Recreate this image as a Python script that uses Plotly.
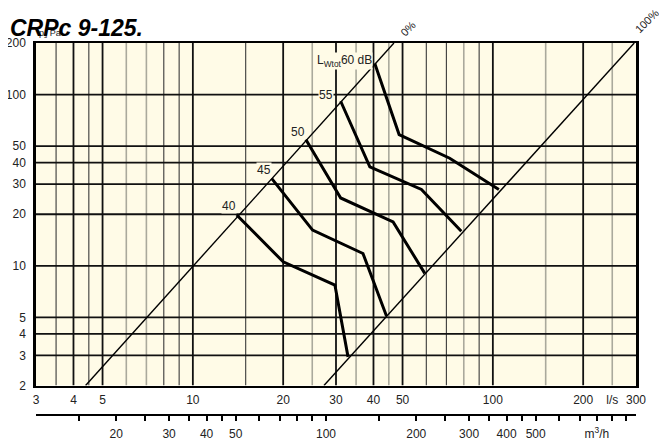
import numpy as np
import plotly.graph_objects as go

# ---------------- data ----------------
db_levels = [40, 45, 50, 55, 60]
q_40 = [14.0, 20.0, 29.75, 32.9]
p_40 = [19.8, 10.55, 7.72, 2.94]
q_45 = [18.3, 25.07, 36.9, 44.2]
p_45 = [32.4, 16.16, 11.8, 5.09]
q_50 = [23.8, 31.1, 46.5, 59.3]
p_50 = [54.6, 24.9, 18.06, 9.03]
q_55 = [31.1, 38.9, 57.8, 78.5]
p_55 = [91.4, 37.8, 27.9, 15.9]
q_60 = [40.4, 48.7, 71.8, 104.7]
p_60 = [151.7, 58.4, 42.5, 27.9]

line0_q = [4.39, 46.8]
line0_p = [2, 200]
line100_q = [27.35, 296]
line100_p = [2, 200]

x_tickvals = [3, 4, 5, 10, 20, 30, 40, 50, 100, 200, 250, 300]
x_ticktext = ["3", "4", "5", "10", "20", "30", "40", "50", "100", "200", "l/s", "300"]
y_tickvals = [2, 3, 4, 5, 10, 20, 30, 40, 50, 100, 200]
y_ticktext = ["2", "3", "4", "5", "10", "20", "30", "40", "50", "100", "200"]
m3h_tickvals = [15, 20, 25, 30, 35, 40, 45, 50, 60, 70, 80, 90, 100, 150, 200, 250,
                300, 350, 400, 450, 500, 600, 700, 800, 900, 1000]
m3h_labels = {20: "20", 30: "30", 40: "40", 50: "50", 100: "100", 200: "200",
              300: "300", 400: "400", 500: "500", 800: "m<sup>3</sup>/h"}

grid_x_thick = [4, 5, 10, 20, 30, 40, 50, 100, 200]
grid_x_thin = [3.5, 4.5, 8, 9, 15, 60, 70, 90]
grid_x_light = [6, 7, 25, 35, 45, 80, 150, 250]
grid_y = [3, 4, 5, 10, 20, 30, 40, 50, 100]

BG = "#fffbe7"
FONT = "Liberation Sans, Arial, sans-serif"

# page offset (default body margin of the html page)
OFF = 8
W, H = 667, 441
# target screen positions
S_L, S_R, S_T, S_B = 36, 636, 42.7, 415.0
S_MAIN_BOTTOM = 385.5
L, R, T, B = S_L - OFF, S_R - OFF, S_T - OFF, S_B - OFF


def px(xs):
    return (xs - S_L) / (S_R - S_L)


def py(ys):
    return (S_B - ys) / (S_B - S_T)


fig = go.Figure()


def vlines(vals, color, width):
    xs, ys = [], []
    for v in vals:
        xs += [v, v, None]
        ys += [2, 200, None]
    fig.add_trace(go.Scatter(x=xs, y=ys, mode="lines", line=dict(color=color, width=width),
                             hoverinfo="skip", showlegend=False))


def hlines(vals, color, width):
    xs, ys = [], []
    for v in vals:
        xs += [3, 300, None]
        ys += [v, v, None]
    fig.add_trace(go.Scatter(x=xs, y=ys, mode="lines", line=dict(color=color, width=width),
                             hoverinfo="skip", showlegend=False))


vlines(grid_x_light, "#aaa99c", 1.6)
vlines(grid_x_thin, "#3a3a3a", 1.1)
vlines(grid_x_thick, "#111111", 1.8)
hlines(grid_y, "#111111", 1.8)

for qq, pp in [(line0_q, line0_p), (line100_q, line100_p)]:
    fig.add_trace(go.Scatter(x=qq, y=pp, mode="lines", line=dict(color="black", width=1.4),
                             hoverinfo="skip", showlegend=False))

curves = [(q_40, p_40), (q_45, p_45), (q_50, p_50), (q_55, p_55), (q_60, p_60)]
for qq, pp in curves:
    fig.add_trace(go.Scatter(x=qq, y=pp, mode="lines", line=dict(color="black", width=3),
                             hoverinfo="skip", showlegend=False))

# dummy trace for second axis
fig.add_trace(go.Scatter(x=[10.8, 1080], y=[2, 2], xaxis="x2", yaxis="y", mode="lines",
                         line=dict(width=0, color="rgba(0,0,0,0)"), hoverinfo="skip",
                         showlegend=False))

annotations = []
# dB labels
offsets = [(-8, 9), (-8, 8), (-8, 8), (-15, 6)]
for i, (qq, pp) in enumerate(curves[:4]):
    dx, dy = offsets[i]
    annotations.append(dict(x=np.log10(qq[0]), y=np.log10(pp[0]), xref="x", yref="y",
                            text=str(db_levels[i]), showarrow=False, xshift=dx, yshift=dy,
                            font=dict(size=12, color="#222", family=FONT), bgcolor=BG,
                            borderpad=0))
annotations.append(dict(x=np.log10(q_60[0]), y=np.log10(p_60[0]), xref="x", yref="y",
                        text="L<sub>Wtot</sub>" + str(db_levels[4]) + " dB", showarrow=False,
                        xanchor="right", xshift=-2, yshift=3,
                        font=dict(size=12, color="#222", family=FONT), bgcolor=BG, borderpad=0))

annotations.append(dict(x=px(37), y=py(33), xref="paper", yref="paper", text="p<sub>s</sub> Pa",
                        showarrow=False, xanchor="left", yanchor="middle",
                        font=dict(size=9, color="#222", family=FONT)))
annotations.append(dict(x=px(8), y=py(28), xref="paper", yref="paper",
                        text="<b><i>CRPc 9-125.</i></b>", showarrow=False, xanchor="left",
                        yanchor="middle", font=dict(size=23, color="black", family=FONT)))
annotations.append(dict(x=px(407.5), y=py(28.5), xref="paper", yref="paper", text="0%",
                        showarrow=False, textangle=-45, xanchor="center", yanchor="middle",
                        font=dict(size=11, color="#222", family=FONT)))
annotations.append(dict(x=px(647), y=py(21), xref="paper", yref="paper", text="100%",
                        showarrow=False, textangle=-45, xanchor="center", yanchor="middle",
                        font=dict(size=11, color="#222", family=FONT)))

dom0 = (S_B - S_MAIN_BOTTOM) / (S_B - S_T)

fig.update_layout(
    width=W, height=H,
    margin=dict(l=L, r=W - R, t=T, b=H - B, pad=0, autoexpand=False),
    paper_bgcolor="white", plot_bgcolor=BG,
    font=dict(family=FONT, size=12, color="#222"),
    showlegend=False,
    xaxis=dict(type="log", range=[np.log10(3), np.log10(300)], anchor="y",
               showgrid=False, zeroline=False, showline=True, linecolor="black",
               linewidth=2, mirror=True, ticks="", tickvals=x_tickvals,
               ticktext=x_ticktext, tickfont=dict(size=12), ticklabelstandoff=2,
               automargin=False),
    xaxis2=dict(type="log", range=[np.log10(10.8), np.log10(1080)], overlaying="x",
                anchor="free", position=0, side="bottom", showgrid=False, zeroline=False,
                showline=True, linecolor="black", linewidth=2, ticks="outside",
                ticklen=5, tickwidth=1.5, tickcolor="black", tickvals=m3h_tickvals,
                ticktext=[m3h_labels.get(v, "") for v in m3h_tickvals],
                tickfont=dict(size=12), ticklabelstandoff=3, automargin=False),
    yaxis=dict(type="log", range=[np.log10(2), np.log10(200)], domain=[dom0, 1],
               showgrid=False, zeroline=False, showline=True, linecolor="black",
               linewidth=2.5, mirror=True, ticks="", tickvals=y_tickvals,
               ticktext=y_ticktext, tickfont=dict(size=12), ticklabelstandoff=5,
               automargin=False),
    annotations=annotations,
)

fig.write_html("out.html")
